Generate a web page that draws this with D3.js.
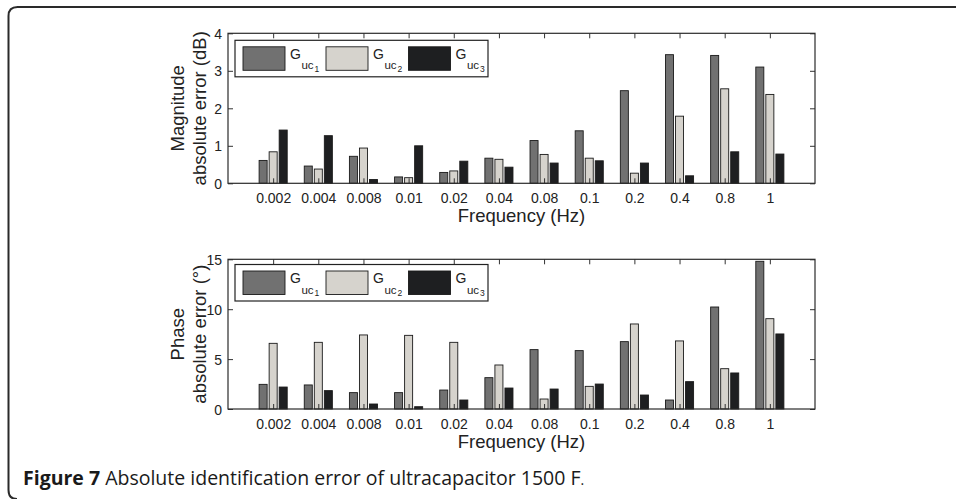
<!DOCTYPE html>
<html>
<head>
<meta charset="utf-8">
<script src="https://cdn.jsdelivr.net/npm/d3@7"></script>
<style>
  html, body { margin: 0; padding: 0; background: #fff; }
  svg { display: block; }
</style>
</head>
<body>
<svg id="chart" width="956" height="499"></svg>
<script>
// ---- data ----
const categories = ["0.002", "0.004", "0.008", "0.01", "0.02", "0.04", "0.08", "0.1", "0.2", "0.4", "0.8", "1"];
const seriesNames = ["1", "2", "3"];
const magGuc1 = [0.61, 0.46, 0.72, 0.17, 0.29, 0.67, 1.14, 1.40, 2.47, 3.43, 3.41, 3.10];
const magGuc2 = [0.84, 0.38, 0.94, 0.15, 0.33, 0.64, 0.77, 0.67, 0.27, 1.79, 2.52, 2.37];
const magGuc3 = [1.42, 1.27, 0.10, 1.00, 0.59, 0.43, 0.54, 0.60, 0.54, 0.20, 0.84, 0.78];
const phaGuc1 = [2.47, 2.41, 1.64, 1.64, 1.90, 3.14, 5.95, 5.85, 6.75, 0.90, 10.22, 14.80];
const phaGuc2 = [6.58, 6.68, 7.42, 7.38, 6.68, 4.41, 1.00, 2.27, 8.52, 6.82, 4.04, 9.05];
const phaGuc3 = [2.20, 1.84, 0.50, 0.23, 0.90, 2.10, 2.00, 2.50, 1.40, 2.74, 3.61, 7.52];
const magTicks = [0, 1, 2, 3, 4];
const phaTicks = [0, 5, 10, 15];
const colors = ["#717171", "#d6d3cd", "#1e1f21"];

const AX_FONT = "'Liberation Sans', Arial, sans-serif";
const svg = d3.select("#chart");

// frame
svg.append("path")
  .attr("d", "M 17 499 Q 8.5 499 8.5 490 L 8.5 16 Q 8.5 7 17.5 7 L 956 7")
  .attr("fill", "none").attr("stroke", "#2a2a2a").attr("stroke-width", 2);

const X0 = 228, X1 = 815;

function panel(cfg) {
  const g = svg.append("g").style("font-family", AX_FONT);
  const x = d3.scaleLinear().domain([0, categories.length + 1]).range([X0, X1]);
  const y = d3.scaleLinear().domain([0, cfg.ymax]).range([cfg.bottom, cfg.top]);
  const slot = 0.2222, bw = slot * 0.8;

  cfg.series.forEach((vals, s) => {
    g.append("g").selectAll("rect").data(vals).join("rect")
      .attr("x", (d, i) => x(i + 1 + (s - 1) * slot - bw / 2))
      .attr("width", x(bw) - x(0))
      .attr("y", d => y(d))
      .attr("height", d => y(0) - y(d))
      .attr("fill", colors[s])
      .attr("stroke", "#1a1a1a")
      .attr("stroke-width", 0.9);
  });

  const idx = categories.map((c, i) => i + 1);
  const ax = g.append("g").attr("transform", `translate(0,${cfg.bottom})`)
    .call(d3.axisBottom(x).tickValues(idx).tickFormat((d) => categories[d - 1]).tickSizeInner(-5).tickSizeOuter(0).tickPadding(9));
  const axt = g.append("g").attr("transform", `translate(0,${cfg.top})`)
    .call(d3.axisTop(x).tickValues(idx).tickFormat("").tickSizeInner(-5).tickSizeOuter(0));
  const ay = g.append("g").attr("transform", `translate(${X0},0)`)
    .call(d3.axisLeft(y).tickValues(cfg.ticks).tickFormat(d3.format("d")).tickSizeInner(-5).tickSizeOuter(0).tickPadding(6));
  const ayr = g.append("g").attr("transform", `translate(${X1},0)`)
    .call(d3.axisRight(y).tickValues(cfg.ticks).tickFormat("").tickSizeInner(-5).tickSizeOuter(0));
  [ax, axt, ay, ayr].forEach(a => {
    a.select(".domain").remove();
    a.selectAll("line").attr("stroke", "#333").attr("stroke-width", 1);
    a.selectAll("text").attr("font-size", 14).attr("font-family", AX_FONT).attr("fill", "#222");
  });
  ax.selectAll("text").attr("dy", null).attr("y", 19.5);
  ay.selectAll("text").attr("dy", "0.36em");

  g.append("rect").attr("x", X0).attr("y", cfg.top).attr("width", X1 - X0).attr("height", cfg.bottom - cfg.top)
    .attr("fill", "none").attr("stroke", "#2b2b2b").attr("stroke-width", 1.2);

  g.append("text").attr("x", (X0 + X1) / 2).attr("y", cfg.bottom + 38.5).attr("fill", "#222")
    .attr("text-anchor", "middle").attr("font-size", 18.5).text("Frequency (Hz)");

  const cy = (cfg.top + cfg.bottom) / 2;
  g.append("text").attr("transform", `translate(183.5,${cy}) rotate(-90)`).attr("fill", "#222")
    .attr("text-anchor", "middle").attr("font-size", 18.5).text(cfg.ylab1);
  g.append("text").attr("transform", `translate(206,${cy}) rotate(-90)`).attr("fill", "#222")
    .attr("text-anchor", "middle").attr("font-size", 18.5).text(cfg.ylab2);

  const lt = cfg.legTop;
  const leg = g.append("g");
  leg.append("rect").attr("x", 235).attr("y", lt).attr("width", 253).attr("height", 36.5)
    .attr("fill", "#fff").attr("stroke", "#222").attr("stroke-width", 1.2);
  const swX = [243, 326, 408.5];
  seriesNames.forEach((nm, s) => {
    leg.append("rect").attr("x", swX[s]).attr("y", lt + 6.5).attr("width", 42).attr("height", 23.5)
      .attr("fill", colors[s]).attr("stroke", "#1a1a1a").attr("stroke-width", 0.9);
    const t = leg.append("text").attr("x", swX[s] + 47).attr("y", lt + 18.7).attr("font-size", 14).attr("fill", "#222");
    t.append("tspan").text("G");
    t.append("tspan").attr("font-size", 11.5).attr("dy", 10.3).attr("dx", 0.5).text("uc");
    t.append("tspan").attr("font-size", 8.5).attr("dy", 2.7).attr("dx", 1).text(nm);
  });
}

panel({ top: 33.3, bottom: 183.3, ymax: 4, ticks: magTicks, series: [magGuc1, magGuc2, magGuc3],
        ylab1: "Magnitude", ylab2: "absolute error (dB)", legTop: 40.3 });
panel({ top: 259.3, bottom: 409, ymax: 15, ticks: phaTicks, series: [phaGuc1, phaGuc2, phaGuc3],
        ylab1: "Phase", ylab2: "absolute error (°)", legTop: 264.5 });

// caption
const cap = svg.append("text").attr("x", 23).attr("y", 485)
  .style("font-family", "'Open Sans', 'Noto Sans', sans-serif").style("font-size", "19.5px").attr("fill", "#1a1a1a");
cap.append("tspan").style("font-weight", "bold").text("Figure 7");
cap.append("tspan").text(" Absolute identification error of ultracapacitor 1500 F");
cap.append("tspan").style("font-size", "14px").text(".");
</script>
</body>
</html>
